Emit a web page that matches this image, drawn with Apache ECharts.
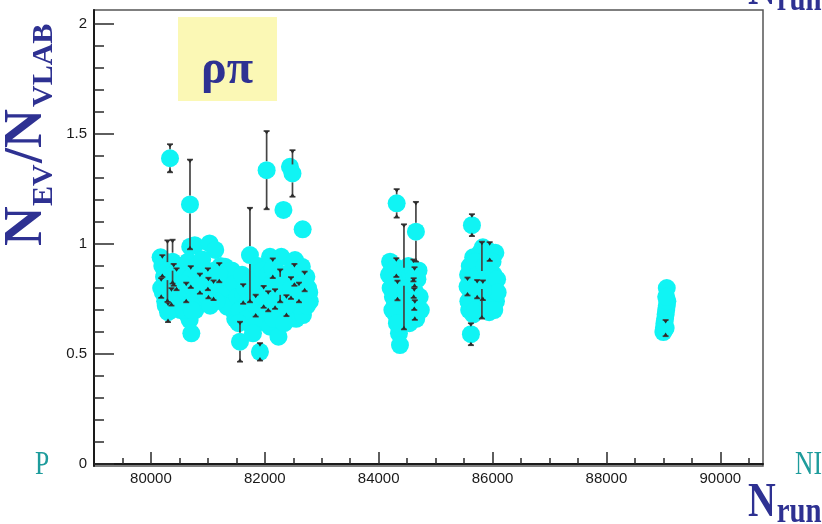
<!DOCTYPE html>
<html>
<head>
<meta charset="utf-8">
<script src="https://cdn.jsdelivr.net/npm/echarts@6/dist/echarts.min.js"></script>
<style>
  html, body { margin: 0; padding: 0; background: #ffffff; }
  #chart { width: 822px; height: 524px; }
</style>
</head>
<body>
<div id="chart"></div>
<script>
// Run numbers, event ratio N_EV/N_VLAB and its uncertainty, one entry per run.
const runs = [
  80335, 80686, 82032, 82442, 82486, 82327, 82665, 81739, 81564, 81915,
  80260, 80350, 80440, 80500, 80520, 80640, 80780, 80850, 80880, 80940,
  81080, 81120, 81240, 81290, 81360, 81400, 81440, 81480, 81580, 81620,
  81720, 81740, 81820, 81950, 82030, 82100, 82210, 82280, 82400, 82480,
  82550, 82640, 82780, 82790,
  80170, 80200, 80230, 80180, 80210, 80250, 80300, 80290, 80380, 80320,
  80400, 80420, 80360, 80450, 80480, 80690, 80770, 80540, 80600, 80650,
  80700, 80560, 80620, 80680, 80710, 80660, 80740, 80800, 80830, 80580,
  80720, 81030, 81130, 80900, 80960, 81000, 81060, 81100, 81180, 81220,
  80920, 81260, 81300, 81340, 80980, 81150, 81380, 81040, 81420, 81470,
  81520, 81560, 81600, 81620, 81650, 81700, 81680, 81760, 81800, 81840,
  81860, 81880, 81900, 81792, 81540, 82091, 82290, 82530, 82650, 82730,
  82091, 82240, 82442, 82670, 81960, 82000, 82050, 82120, 82160, 82200,
  82250, 82300, 82350, 82380, 82420, 82470, 82500, 82560, 82590, 82620,
  82700, 82740, 82760, 82010, 82150, 82340, 82140, 82270, 82460, 82600,
  82380, 82180, 82520, 82700, 81980, 82060, 81010, 81200, 80860,
  84240, 84360, 84420, 84400, 84460, 84680,
  84316, 84654, 84444, 84356, 84374, 84200, 84230, 84260, 84210, 84250,
  84280, 84300, 84320, 84180, 84310, 84330, 84520, 84560, 84600, 84640,
  84580, 84620, 84660, 84540, 84700, 84680, 84720, 84500, 84470, 84740,
  84610, 84615, 84625, 84630, 84635,
  85800, 85850, 86050, 85660, 85980, 85620,
  85638, 85620, 85813, 85950, 85830, 85780, 85570, 85580, 85575, 85590,
  85600, 85640, 85680, 85620, 85660, 85700, 85740, 85720, 85760, 85700,
  85860, 85880, 85900, 85920, 85940, 86000, 86020, 86040, 86060, 86030,
  86080, 86090, 85560, 85730, 85830,
  89060, 89000, 89010, 89020, 89030, 89040, 89050, 89060, 89070, 89050,
  89030, 89040
];
const ratio = [
  1.390, 1.180, 1.336, 1.351, 1.321, 1.155, 1.067, 0.950, 0.556, 0.510,
  0.720, 0.700, 0.740, 0.860, 0.700, 0.680, 0.700, 0.820, 0.760, 0.820,
  0.760, 0.880, 0.760, 0.740, 0.780, 0.760, 0.700, 0.660, 0.740, 0.660,
  0.640, 0.700, 0.680, 0.700, 0.640, 0.700, 0.640, 0.740, 0.700, 0.700,
  0.660, 0.740, 0.780, 0.740,
  0.940, 0.900, 0.850, 0.800, 0.780, 0.740, 0.690, 0.877, 0.920, 0.830,
  0.860, 0.800, 0.760, 0.840, 0.780, 0.988, 0.995, 0.900, 0.860, 0.920,
  0.850, 0.820, 0.780, 0.655, 0.594, 0.720, 0.800, 0.900, 0.760, 0.700,
  0.700, 1.003, 0.973, 0.930, 0.880, 0.840, 0.860, 0.790, 0.840, 0.900,
  0.780, 0.800, 0.897, 0.715, 0.760, 0.740, 0.840, 0.720, 0.880, 0.820,
  0.760, 0.700, 0.860, 0.773, 0.800, 0.740, 0.660, 0.840, 0.780, 0.720,
  0.640, 0.900, 0.820, 0.594, 0.640, 0.942, 0.942, 0.927, 0.897, 0.851,
  0.624, 0.579, 0.670, 0.677, 0.880, 0.780, 0.860, 0.820, 0.740, 0.880,
  0.800, 0.700, 0.860, 0.760, 0.820, 0.880, 0.780, 0.840, 0.720, 0.800,
  0.760, 0.720, 0.800, 0.700, 0.660, 0.640, 0.890, 0.810, 0.800, 0.780,
  0.720, 0.750, 0.860, 0.830, 0.760, 0.740, 0.800, 0.870, 0.820,
  0.700, 0.660, 0.800, 0.880, 0.700, 0.720,
  1.185, 1.056, 0.851, 0.594, 0.541, 0.920, 0.880, 0.840, 0.800, 0.760,
  0.720, 0.680, 0.640, 0.860, 0.893, 0.789, 0.900, 0.860, 0.820, 0.780,
  0.740, 0.700, 0.660, 0.640, 0.880, 0.840, 0.760, 0.720, 0.780, 0.700,
  0.880, 0.800, 0.750, 0.850, 0.700,
  0.700, 0.940, 0.960, 0.940, 0.720, 0.800,
  1.086, 0.590, 0.836, 0.966, 0.985, 0.960, 0.860, 0.800, 0.740, 0.700,
  0.900, 0.840, 0.780, 0.720, 0.680, 0.920, 0.860, 0.800, 0.740, 0.700,
  0.900, 0.840, 0.780, 0.720, 0.690, 0.920, 0.860, 0.800, 0.740, 0.700,
  0.840, 0.780, 0.807, 0.795, 0.790,
  0.800, 0.600, 0.620, 0.640, 0.660, 0.680, 0.700, 0.720, 0.740, 0.760,
  0.615, 0.618
];
const errs = [
  0.064, 0.204, 0.178, 0.030, 0.106, 0.030, 0.030, 0.215, 0.091, 0.040,
  0.030, 0.030, 0.030, 0.030, 0.030, 0.030, 0.030, 0.030, 0.030, 0.030,
  0.030, 0.030, 0.030, 0.030, 0.030, 0.030, 0.030, 0.030, 0.030, 0.030,
  0.030, 0.030, 0.030, 0.030, 0.030, 0.030, 0.030, 0.030, 0.030, 0.030,
  0.030, 0.030, 0.030, 0.030,
  0.030, 0.050, 0.030, 0.045, 0.025, 0.030, 0.045, 0.140, 0.100, 0.030,
  0.050, 0.030, 0.040, 0.050, 0.030, 0.030, 0.030, 0.030, 0.030, 0.030,
  0.050, 0.030, 0.045, 0.030, 0.025, 0.030, 0.030, 0.030, 0.030, 0.030,
  0.030, 0.030, 0.030, 0.030, 0.030, 0.050, 0.030, 0.045, 0.030, 0.030,
  0.030, 0.030, 0.030, 0.030, 0.030, 0.030, 0.030, 0.030, 0.030, 0.030,
  0.030, 0.030, 0.030, 0.045, 0.030, 0.030, 0.030, 0.030, 0.030, 0.050,
  0.030, 0.030, 0.030, 0.030, 0.030, 0.030, 0.030, 0.030, 0.030, 0.030,
  0.030, 0.030, 0.030, 0.030, 0.030, 0.030, 0.030, 0.030, 0.030, 0.030,
  0.030, 0.030, 0.030, 0.030, 0.030, 0.030, 0.030, 0.030, 0.030, 0.030,
  0.030, 0.030, 0.030, 0.030, 0.030, 0.030, 0.045, 0.075, 0.050, 0.045,
  0.048, 0.045, 0.050, 0.045, 0.050, 0.046, 0.047, 0.044, 0.046,
  0.030, 0.030, 0.030, 0.030, 0.030, 0.030,
  0.065, 0.136, 0.239, 0.030, 0.030, 0.030, 0.030, 0.030, 0.030, 0.030,
  0.030, 0.030, 0.030, 0.030, 0.043, 0.045, 0.030, 0.030, 0.030, 0.030,
  0.030, 0.030, 0.030, 0.030, 0.030, 0.030, 0.030, 0.030, 0.030, 0.030,
  0.050, 0.045, 0.050, 0.045, 0.045,
  0.030, 0.030, 0.030, 0.030, 0.030, 0.030,
  0.050, 0.050, 0.175, 0.043, 0.030, 0.030, 0.030, 0.030, 0.030, 0.030,
  0.030, 0.030, 0.030, 0.030, 0.030, 0.030, 0.030, 0.030, 0.030, 0.030,
  0.030, 0.030, 0.030, 0.030, 0.030, 0.030, 0.030, 0.030, 0.030, 0.030,
  0.030, 0.030, 0.041, 0.042, 0.045,
  0.020, 0.020, 0.020, 0.020, 0.020, 0.020, 0.020, 0.020, 0.020, 0.020,
  0.020, 0.037
];

// Axis ticks and labels
const xMajorTicks = [80000, 82000, 84000, 86000, 88000, 90000];
const xMinorTicks = [79500, 80500, 81000, 81500, 82500, 83000, 83500, 84500, 85000,
                     85500, 86500, 87000, 87500, 88500, 89000, 89500, 90500];
const yMajorTicks = [0, 0.5, 1, 1.5, 2];
const yMinorTicks = [0.1, 0.2, 0.3, 0.4, 0.6, 0.7, 0.8, 0.9, 1.1, 1.2, 1.3, 1.4,
                     1.6, 1.7, 1.8, 1.9];

const X_MIN = 79000, X_MAX = 90750;
const Y_MIN = -0.009, Y_MAX = 2.064;
const MARKER_R = 9;
const INK = '#2e3192';
const TEAL = '#1e9c9c';
const SERIF = '"Liberation Serif", "DejaVu Serif", serif';

const points = runs.map((r, i) => [r, ratio[i], errs[i]]);

const chart = echarts.init(document.getElementById('chart'), null, { renderer: 'canvas' });

function errorBar(params, api) {
  const x = api.value(0), v = api.value(1), e = api.value(2);
  const c = api.coord([x, v]);
  const up = api.coord([x, v + e])[1];
  const dn = api.coord([x, v - e])[1];
  const children = [];
  const ink = { stroke: '#454545', lineWidth: 1.7 };
  // bars start at the marker edge, like a ROOT graph
  if (c[1] - up > MARKER_R - 1.5) {
    const edge = Math.min(MARKER_R, c[1] - up);
    children.push({ type: 'line', shape: { x1: c[0], y1: c[1] - edge, x2: c[0], y2: up }, style: ink });
    children.push({ type: 'line', shape: { x1: c[0] - 3, y1: up, x2: c[0] + 3, y2: up }, style: ink });
    children.push({ type: 'polygon', shape: { points: [[c[0] - 2.4, up], [c[0] + 2.4, up], [c[0], up + 3.6]] }, style: { fill: '#2a2a2a' } });
  }
  if (dn - c[1] > MARKER_R - 1.5) {
    const edge = Math.min(MARKER_R, dn - c[1]);
    children.push({ type: 'line', shape: { x1: c[0], y1: c[1] + edge, x2: c[0], y2: dn }, style: ink });
    children.push({ type: 'line', shape: { x1: c[0] - 3, y1: dn, x2: c[0] + 3, y2: dn }, style: ink });
    children.push({ type: 'polygon', shape: { points: [[c[0] - 2.4, dn], [c[0] + 2.4, dn], [c[0], dn - 3.6]] }, style: { fill: '#2a2a2a' } });
  }
  return { type: 'group', children };
}

function label(text, x, y, font, fill) {
  return { type: 'text', x, y, style: { text, font, fill, align: 'left', verticalAlign: 'middle', textAlign: 'left', textVerticalAlign: 'middle' } };
}

const option = {
  backgroundColor: '#ffffff',
  animation: false,
  grid: {
    left: 94, right: 59, top: 10, bottom: 58,
    show: true, borderColor: '#555555', borderWidth: 1.5, backgroundColor: 'transparent',
    outerBoundsMode: 'none'
  },
  xAxis: [
    {
      type: 'value', min: X_MIN, max: X_MAX, position: 'bottom',
      axisLine: { show: true, lineStyle: { color: '#1a1a1a', width: 2 } },
      axisTick: { show: true, inside: true, length: 12, customValues: xMajorTicks, lineStyle: { color: '#2a2a2a', width: 1.5 } },
      axisLabel: {
        customValues: xMajorTicks, formatter: v => String(v), color: '#1a1a1a',
        fontSize: 15, fontFamily: '"Liberation Sans", Arial, sans-serif', margin: 5
      },
      splitLine: { show: false }
    },
    {
      type: 'value', min: X_MIN, max: X_MAX, position: 'bottom',
      axisLine: { show: false },
      axisTick: { show: true, inside: true, length: 6, customValues: xMinorTicks, lineStyle: { color: '#2a2a2a', width: 1.5 } },
      axisLabel: { show: false },
      splitLine: { show: false }
    }
  ],
  yAxis: [
    {
      type: 'value', min: Y_MIN, max: Y_MAX, position: 'left',
      axisLine: { show: true, lineStyle: { color: '#1a1a1a', width: 2 } },
      axisTick: { show: true, inside: true, length: 20, customValues: yMajorTicks, lineStyle: { color: '#2a2a2a', width: 1.5 } },
      axisLabel: {
        customValues: yMajorTicks, color: '#1a1a1a',
        fontSize: 15, fontFamily: '"Liberation Sans", Arial, sans-serif', margin: 7
      },
      splitLine: { show: false }
    },
    {
      type: 'value', min: Y_MIN, max: Y_MAX, position: 'left',
      axisLine: { show: false },
      axisTick: { show: true, inside: true, length: 10, customValues: yMinorTicks, lineStyle: { color: '#2a2a2a', width: 1.5 } },
      axisLabel: { show: false },
      splitLine: { show: false }
    }
  ],
  series: [
    {
      type: 'scatter', xAxisIndex: 0, yAxisIndex: 0, z: 2,
      data: points.map(p => [p[0], p[1]]),
      symbol: 'circle', symbolSize: MARKER_R * 2,
      itemStyle: { color: '#10f4f4', opacity: 1 },
      emphasis: { disabled: true }
    },
    {
      type: 'custom', xAxisIndex: 0, yAxisIndex: 0, z: 3,
      data: points, renderItem: errorBar, clip: false
    }
  ],
  graphic: [
    { type: 'rect', shape: { x: 178, y: 17, width: 99, height: 84 }, style: { fill: '#fbf8b5' }, z: 10 },
    { type: 'text', x: 227, y: 71, z: 11, style: {
        text: 'ρπ', font: 'bold 48px ' + SERIF, fill: INK,
        align: 'center', verticalAlign: 'middle', textAlign: 'center', textVerticalAlign: 'middle' } },
    // vertical axis title, reading bottom to top
    { type: 'group', x: 27, y: 246, rotation: Math.PI / 2, z: 11, children: [
        label('N', 0, 0, 'bold 55px ' + SERIF, INK),
        label('EV', 40, 17, 'bold 30px ' + SERIF, INK),
        label('/', 83, 0, 'bold 54px ' + SERIF, INK),
        label('N', 98, 0, 'bold 54px ' + SERIF, INK),
        label('VLAB', 139, 17, 'bold 30px ' + SERIF, INK)
    ] },
    // horizontal axis title
    { type: 'group', x: 748, y: 504, scaleX: 0.8, z: 11, children: [
        label('N', 0, 0, 'bold 48px ' + SERIF, INK),
        label('run', 36, 9, 'bold 36px ' + SERIF, INK)
    ] },
    { type: 'group', x: 748, y: -8, scaleX: 0.8, z: 11, children: [
        label('N', 0, 0, 'bold 48px ' + SERIF, INK),
        label('run', 36, 9, 'bold 36px ' + SERIF, INK)
    ] },
    { type: 'group', x: 35, y: 465, scaleX: 0.75, z: 11, children: [
        label('P', 0, 0, '34px ' + SERIF, TEAL)
    ] },
    { type: 'group', x: 795, y: 465, scaleX: 0.75, z: 11, children: [
        label('NI', 0, 0, '34px ' + SERIF, TEAL)
    ] }
  ]
};

chart.setOption(option);
</script>
</body>
</html>
